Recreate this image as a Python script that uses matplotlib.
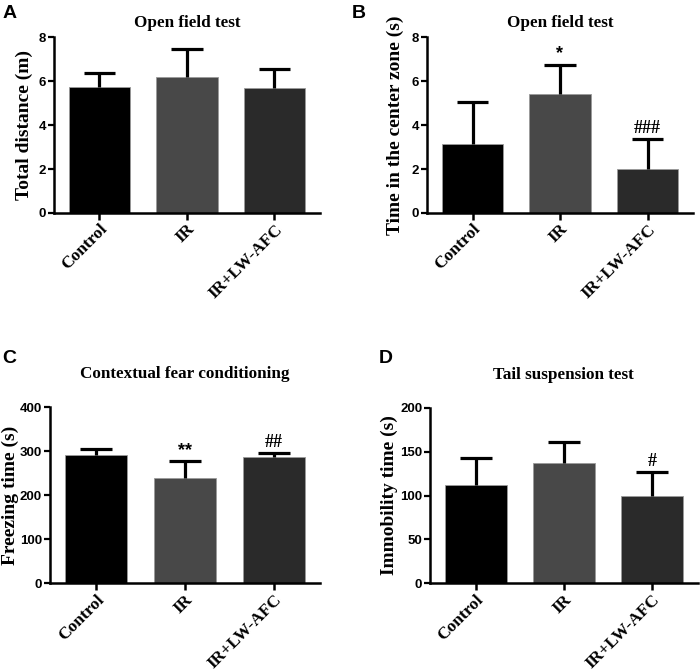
import matplotlib.pyplot as plt
import numpy as np

# groups
groups = ['Control', 'IR', 'IR+LW-AFC']

# A: open field, total distance
dist_mean = [5.75, 6.2, 5.7]
dist_err = [0.6, 1.25, 0.85]

# B: open field, time in center
center_mean = [3.15, 5.4, 2.02]
center_err = [1.92, 1.35, 1.36]
center_sig = ['', '*', '###']

# C: contextual fear conditioning
freeze_mean = [292, 238, 286]
freeze_err = [12, 39, 10]
freeze_sig = ['', '**', '##']

# D: tail suspension
immob_mean = [112, 137, 100]
immob_err = [31, 24, 27]
immob_sig = ['', '', '#']

bar_colors = ['#000000', '#484848', '#2a2a2a']

serif = 'Liberation Serif'
sans = 'Liberation Sans'

fig = plt.figure(figsize=(7, 6.71), dpi=100)

panels = [
    # letter, title, ylabel, means, errs, sig, ymax, step, rect, ylabel x
    ('A', 'Open field test', 'Total distance (m)', dist_mean, dist_err, None, 8, 2,
     [0.077, 0.6826, 0.380, 0.262], -0.079),
    ('B', 'Open field test', 'Time in the center zone (s)', center_mean, center_err, center_sig, 8, 2,
     [0.610, 0.6826, 0.380, 0.262], -0.085),
    ('C', 'Contextual fear conditioning', 'Freezing time (s)', freeze_mean, freeze_err, freeze_sig, 400, 100,
     [0.071, 0.131, 0.386, 0.262], -0.112),
    ('D', 'Tail suspension test', 'Immobility time (s)', immob_mean, immob_err, immob_sig, 200, 50,
     [0.614, 0.131, 0.383, 0.261], -0.12),
]

for letter, title, ylabel, means, errs, sig, ymax, step, rect, lx in panels:
    ax = fig.add_axes(rect)
    x = np.arange(len(groups))
    means = np.array(means)
    errs = np.array(errs)
    ax.bar(x, means, width=0.7, color=bar_colors, edgecolor='#9a9a9a', linewidth=0.6, zorder=2)
    # upper-only error bars
    ax.vlines(x, means, means + errs, color='black', linewidth=2.3, zorder=3)
    ax.hlines(means + errs, x - 0.18, x + 0.18, color='black', linewidth=2.3, zorder=3)
    if sig:
        for xi, m, e, s in zip(x, means, errs, sig):
            if s:
                ax.text(xi, m + e + ymax * 0.012, s, ha='center', va='bottom',
                        fontsize=13, fontweight='bold', family=serif if '#' in s else sans)
    ax.set_xlim(-0.52, 2.52)
    ax.set_ylim(0, ymax)
    ax.set_yticks(np.arange(0, ymax + step, step))
    ax.set_xticks(x)
    ax.set_xticklabels(groups, rotation=45, ha='right', rotation_mode='anchor',
                       family=serif, fontweight='bold', fontsize=12.5)
    for lab in ax.get_yticklabels():
        lab.set_family(sans)
        lab.set_fontweight('bold')
        lab.set_fontsize(9.5)
    for side in ['top', 'right']:
        ax.spines[side].set_visible(False)
    for side in ['left', 'bottom']:
        ax.spines[side].set_linewidth(1.8)
    ax.tick_params(axis='y', width=1.6, length=4, direction='out', pad=1.5)
    ax.tick_params(axis='x', width=1.8, length=5, direction='out', pad=1)
    ax.set_ylabel(ylabel, family=serif, fontweight='bold', fontsize=14)
    ax.yaxis.set_label_coords(lx, 0.5)
    pad = 7 if letter in 'AB' else 21
    ax.set_title(title, family=serif, fontweight='bold', fontsize=12.3, pad=pad)

# panel letters
fig.text(0.003, 0.993, 'A', family=sans, fontweight='bold', fontsize=14, va='top')
fig.text(0.503, 0.993, 'B', family=sans, fontweight='bold', fontsize=14, va='top')
fig.text(0.003, 0.479, 'C', family=sans, fontweight='bold', fontsize=14, va='top')
fig.text(0.541, 0.479, 'D', family=sans, fontweight='bold', fontsize=14, va='top')

fig.savefig('out.png', dpi=100)
